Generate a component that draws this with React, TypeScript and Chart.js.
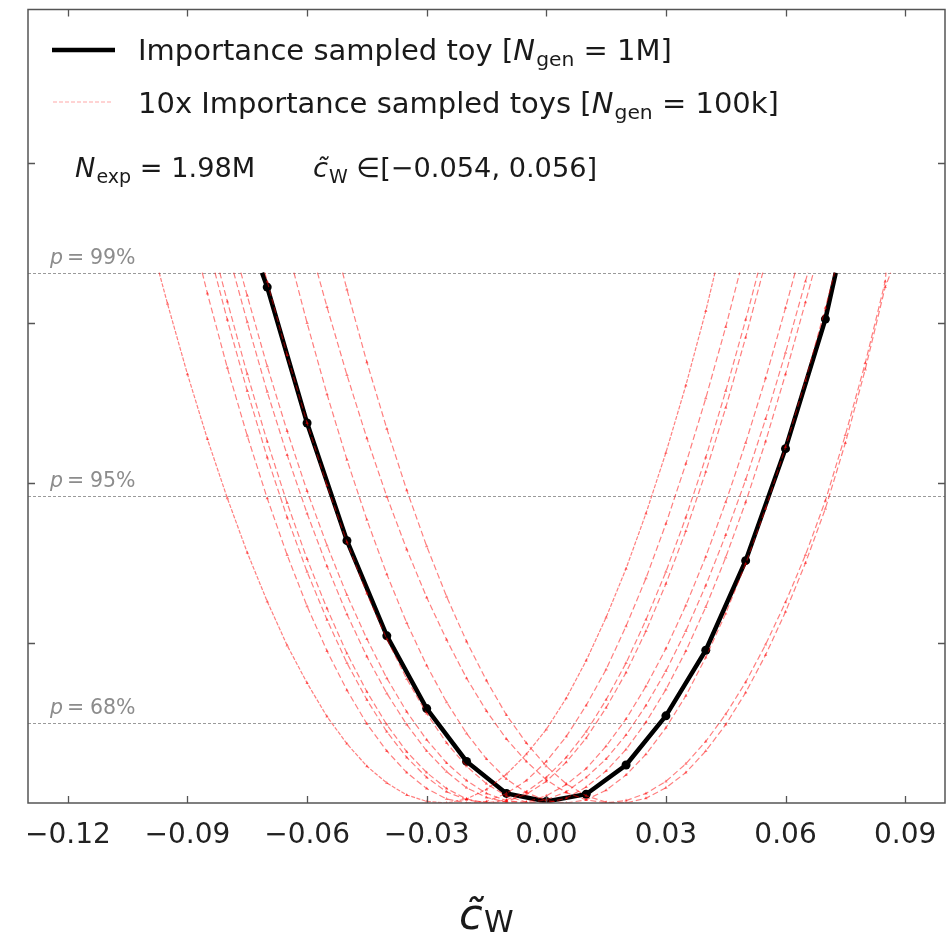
import React, { useEffect, useRef } from 'react';
import { Chart, registerables } from 'chart.js';
Chart.register(...registerables);

// ---------- data ----------
const X_TICKS = [-0.12, -0.09, -0.06, -0.03, 0.0, 0.03, 0.06, 0.09];
const Y_TICKS = [2, 4, 6, 8];
const P_LEVELS = [1.0, 3.84, 6.63];
const P_LABELS = ['68%', '95%', '99%'];
const CUT = 6.63;

const BLACK_X = [-0.0713, -0.07, -0.06, -0.05, -0.04, -0.03, -0.02, -0.01, 0.0, 0.01, 0.02, 0.03, 0.04, 0.05, 0.06, 0.07, 0.0726];
const BLACK_Y = [6.63, 6.45, 4.75, 3.28, 2.09, 1.18, 0.52, 0.12, 0.02, 0.11, 0.475, 1.09, 1.91, 3.03, 4.43, 6.05, 6.63];

const GRID_X = [-0.100, -0.095, -0.090, -0.085, -0.080, -0.075, -0.070, -0.065, -0.060, -0.055, -0.050, -0.045, -0.040, -0.035, -0.030, -0.025, -0.020, -0.015, -0.010, -0.005, 0.000, 0.005, 0.010, 0.015, 0.020, 0.025, 0.030, 0.035, 0.040, 0.045, 0.050, 0.055, 0.060, 0.065, 0.070, 0.075, 0.080, 0.085, 0.090];

const _ = null;
const TOY1_Y = [_, 6.24, 5.36, 4.55, 3.81, 3.13, 2.52, 1.97, 1.50, 1.08, 0.74, 0.46, 0.25, 0.10, 0.02, 0.00, 0.05, 0.17, 0.36, 0.61, 0.92, 1.31, 1.78, 2.32, 2.93, 3.62, 4.38, 5.22, 6.15, _, _, _, _, _, _, _, _, _, _];
const TOY2_Y = [_, _, _, 6.37, 5.44, 4.59, 3.81, 3.10, 2.46, 1.90, 1.41, 0.99, 0.65, 0.38, 0.18, 0.05, 0.00, 0.02, 0.12, 0.28, 0.52, 0.83, 1.22, 1.67, 2.21, 2.81, 3.49, 4.24, 5.06, 5.95, _, _, _, _, _, _, _, _, _];
const TOY3_Y = [_, _, _, _, 6.04, 5.15, 4.32, 3.57, 2.89, 2.29, 1.75, 1.29, 0.89, 0.57, 0.32, 0.14, 0.04, 0.00, 0.04, 0.14, 0.32, 0.57, 0.89, 1.29, 1.75, 2.29, 2.89, 3.57, 4.32, 5.15, 6.04, _, _, _, _, _, _, _, _];
const TOY4_Y = [_, _, _, _, 6.27, 5.36, 4.52, 3.75, 3.05, 2.43, 1.87, 1.39, 0.98, 0.64, 0.38, 0.18, 0.05, 0.00, 0.02, 0.11, 0.27, 0.51, 0.81, 1.19, 1.63, 2.15, 2.74, 3.40, 4.14, 4.94, 5.82, _, _, _, _, _, _, _, _];
const TOY5_Y = [_, _, _, _, _, 6.01, 5.14, 4.35, 3.62, 2.96, 2.36, 1.83, 1.37, 0.98, 0.65, 0.39, 0.19, 0.07, 0.01, 0.01, 0.09, 0.23, 0.43, 0.71, 1.05, 1.46, 1.93, 2.47, 3.08, 3.76, 4.50, 5.31, 6.19, _, _, _, _, _, _];
const TOY6_Y = [_, _, _, _, _, 6.34, 5.46, 4.65, 3.90, 3.22, 2.60, 2.05, 1.56, 1.14, 0.79, 0.50, 0.28, 0.12, 0.03, 0.00, 0.04, 0.14, 0.32, 0.55, 0.85, 1.22, 1.65, 2.15, 2.72, 3.35, 4.04, 4.80, 5.63, 6.52, _, _, _, _, _];
const TOY7_Y = [_, _, _, _, _, _, _, _, 6.00, 5.11, 4.29, 3.54, 2.86, 2.25, 1.72, 1.26, 0.87, 0.55, 0.30, 0.13, 0.03, 0.00, 0.04, 0.16, 0.35, 0.61, 0.94, 1.34, 1.82, 2.37, 2.99, 3.68, 4.45, 5.28, 6.19, _, _, _, _];
const TOY8_Y = [_, _, _, _, _, _, _, _, _, 6.20, 5.35, 4.56, 3.83, 3.17, 2.57, 2.04, 1.56, 1.15, 0.80, 0.52, 0.29, 0.13, 0.04, 0.00, 0.03, 0.12, 0.27, 0.49, 0.77, 1.11, 1.51, 1.98, 2.51, 3.10, 3.78, 4.60, 5.50, 6.52, _];
const TOY9_Y = [_, _, _, _, _, _, _, _, _, _, 6.42, 5.51, 4.68, 3.91, 3.21, 2.58, 2.02, 1.53, 1.10, 0.75, 0.46, 0.24, 0.09, 0.01, 0.00, 0.06, 0.19, 0.38, 0.65, 0.98, 1.38, 1.85, 2.39, 3.00, 3.68, 4.50, 5.42, 6.45, _];
const TOY10_Y = [_, _, _, _, _, _, 6.52, 5.60, 4.75, 3.97, 3.26, 2.62, 2.05, 1.55, 1.12, 0.75, 0.46, 0.24, 0.09, 0.01, 0.00, 0.06, 0.20, 0.40, 0.67, 1.01, 1.42, 1.90, 2.45, 3.07, 3.76, 4.52, 5.36, 6.26, _, _, _, _, _];

// x where each toy curve reaches the 99% cut (left, right)
const TOY_ENDS = [
  [-0.0971, 0.0423], [-0.0863, 0.0485], [-0.0831, 0.0531], [-0.0819, 0.0543], [-0.0784, 0.0624],
  [-0.0766, 0.0656], [-0.0633, 0.0723], [-0.0574, 0.0852], [-0.0511, 0.0864], [-0.0706, 0.0670],
];
const TOYS_Y = [TOY1_Y, TOY2_Y, TOY3_Y, TOY4_Y, TOY5_Y, TOY6_Y, TOY7_Y, TOY8_Y, TOY9_Y, TOY10_Y];

// ---------- drawing helpers ----------
const FONT = 'DejaVu Sans';
const TXT = '#1a1a1a';
const RED = 'rgba(255,0,0,0.5)';
const RED_LEG = 'rgba(255,0,0,0.35)';

type Part = { t: string; it?: boolean; sub?: boolean };
function drawRich(ctx: CanvasRenderingContext2D, x: number, y: number, size: number, parts: Part[], color = TXT) {
  ctx.save();
  ctx.fillStyle = color;
  ctx.textBaseline = 'alphabetic';
  ctx.textAlign = 'left';
  let cx = x;
  for (const p of parts) {
    const s = p.sub ? size * 0.7 : size;
    ctx.font = `${p.it ? 'italic ' : ''}${s}px "${FONT}"`;
    const dy = p.sub ? size * 0.22 : 0;
    ctx.fillText(p.t, cx, y + dy);
    cx += ctx.measureText(p.t).width + (p.it && !p.sub ? size * 0.04 : 0);
  }
  ctx.restore();
  return cx;
}

const decoPlugin = {
  id: 'deco',
  beforeDatasetsDraw(chart: any) {
    const { ctx, chartArea: a, scales } = chart;
    const y = scales.y;
    ctx.save();
    ctx.strokeStyle = '#9a9a9a';
    ctx.lineWidth = 1;
    ctx.setLineDash([3, 2]);
    P_LEVELS.forEach((v) => {
      const py = Math.round(y.getPixelForValue(v)) + 0.5;
      ctx.beginPath();
      ctx.moveTo(a.left, py);
      ctx.lineTo(a.right, py);
      ctx.stroke();
    });
    ctx.setLineDash([]);
    P_LEVELS.forEach((v, i) => {
      const py = y.getPixelForValue(v) - 9;
      const col = '#8c8c8c';
      drawRich(ctx, a.left + 22, py, 20.5, [{ t: 'p', it: true }], col);
      drawRich(ctx, a.left + 39, py, 20.5, [{ t: '=' }], col);
      drawRich(ctx, a.left + 62, py, 20.5, [{ t: P_LABELS[i] }], col);
    });
    ctx.restore();
  },
  afterDraw(chart: any) {
    const { ctx, chartArea: a, scales } = chart;
    const x = scales.x, y = scales.y;
    ctx.save();
    // frame
    ctx.strokeStyle = '#555';
    ctx.lineWidth = 1.5;
    ctx.strokeRect(a.left, a.top, a.right - a.left, a.bottom - a.top);
    // inward ticks
    ctx.lineWidth = 1.3;
    ctx.beginPath();
    X_TICKS.forEach((v) => {
      const px = Math.round(x.getPixelForValue(v)) + 0.5;
      ctx.moveTo(px, a.bottom); ctx.lineTo(px, a.bottom - 7);
      ctx.moveTo(px, a.top); ctx.lineTo(px, a.top + 7);
    });
    Y_TICKS.forEach((v) => {
      const py = Math.round(y.getPixelForValue(v)) + 0.5;
      ctx.moveTo(a.left, py); ctx.lineTo(a.left + 7, py);
      ctx.moveTo(a.right, py); ctx.lineTo(a.right - 7, py);
    });
    ctx.stroke();

    // legend
    const S = 29;
    ctx.strokeStyle = '#000';
    ctx.lineWidth = 4.5;
    ctx.beginPath(); ctx.moveTo(52, 50); ctx.lineTo(115, 50); ctx.stroke();
    drawRich(ctx, 138, 60, S, [{ t: 'Importance sampled toy [' }, { t: 'N', it: true }, { t: 'gen', sub: true }, { t: ' = 1M]' }]);
    ctx.strokeStyle = RED_LEG;
    ctx.lineWidth = 1;
    ctx.setLineDash([4, 2]);
    ctx.beginPath(); ctx.moveTo(53, 102); ctx.lineTo(113, 102); ctx.stroke();
    ctx.setLineDash([]);
    drawRich(ctx, 138, 113, S, [{ t: '10x Importance sampled toys [' }, { t: 'N', it: true }, { t: 'gen', sub: true }, { t: ' = 100k]' }]);
    const S3 = 27.2;
    drawRich(ctx, 75, 177, S3, [{ t: 'N', it: true }, { t: 'exp', sub: true }, { t: ' = 1.98M' }]);
    drawRich(ctx, 313, 177, S3, [{ t: 'c\u0303', it: true }, { t: 'W', sub: true }, { t: ' \u2208[\u22120.054, 0.056]' }]);

    // x title
    drawRich(ctx, 459, 929, 43, [{ t: 'c\u0303', it: true }]);
    drawRich(ctx, 484, 932, 30, [{ t: 'W' }]);
    ctx.restore();
  },
};

function buildToy(i: number) {
  const ys = TOYS_Y[i];
  const pts: { x: number; y: number }[] = [{ x: TOY_ENDS[i][0], y: CUT }];
  ys.forEach((v, k) => { if (v !== null) pts.push({ x: GRID_X[k], y: v as number }); });
  pts.push({ x: TOY_ENDS[i][1], y: CUT });
  return pts;
}

export default function App() {
  const ref = useRef<HTMLCanvasElement>(null);
  useEffect(() => {
    if (!ref.current) return;
    const toyDatasets = TOYS_Y.map((_y, i) => {
      const data = buildToy(i);
      return {
        label: `toy${i + 1}`,
        data,
        showLine: true,
        borderColor: RED,
        backgroundColor: RED,
        borderWidth: 1.2,
        borderDash: i === 0 ? [4, 1.5] : [6, 3],
        pointRadius: data.map((_p, k) => (k === 0 || k === data.length - 1 ? 0 : 2)),
        pointBorderWidth: 0,
        pointStyle: 'triangle',
        tension: 0,
      };
    });
    const blackData = BLACK_X.map((x, i) => ({ x, y: BLACK_Y[i] }));
    const chart = new Chart(ref.current, {
      type: 'scatter',
      data: {
        datasets: [
          ...toyDatasets,
          {
            label: 'Importance sampled toy',
            data: blackData,
            showLine: true,
            borderColor: '#000',
            backgroundColor: '#000',
            borderWidth: 4.5,
            pointRadius: blackData.map((_p, k) => (k === 0 || k === blackData.length - 1 ? 0 : 4.5)),
            pointBorderWidth: 0,
            tension: 0,
          },
        ],
      } as any,
      options: {
        animation: false,
        responsive: false,
        devicePixelRatio: 1,
        layout: { padding: { left: 28, top: 9.5, right: 5, bottom: 0 } },
        plugins: { legend: { display: false }, tooltip: { enabled: false } },
        scales: {
          x: {
            type: 'linear',
            min: -0.13,
            max: 0.10,
            grid: { display: false },
            border: { display: false },
            afterBuildTicks: (s: any) => { s.ticks = X_TICKS.map((v) => ({ value: v })); },
            afterFit: (s: any) => { s.height = 130; },
            ticks: {
              padding: 8,
              color: '#222',
              font: { family: FONT, size: 28 },
              callback: (v: any) => {
                const n = Number(v);
                const s = Math.abs(n).toFixed(2);
                return n < -1e-9 ? '\u2212' + s : s;
              },
            },
          },
          y: { type: 'linear', min: 0, max: 9.92, display: false },
        },
      } as any,
      plugins: [decoPlugin],
    });
    return () => chart.destroy();
  }, []);
  return (
    <div style={{ position: 'absolute', left: 0, top: 0, width: 950, height: 933, background: '#fff' }}>
      <canvas ref={ref} width={950} height={933} style={{ width: 950, height: 933, display: 'block' }} />
    </div>
  );
}
